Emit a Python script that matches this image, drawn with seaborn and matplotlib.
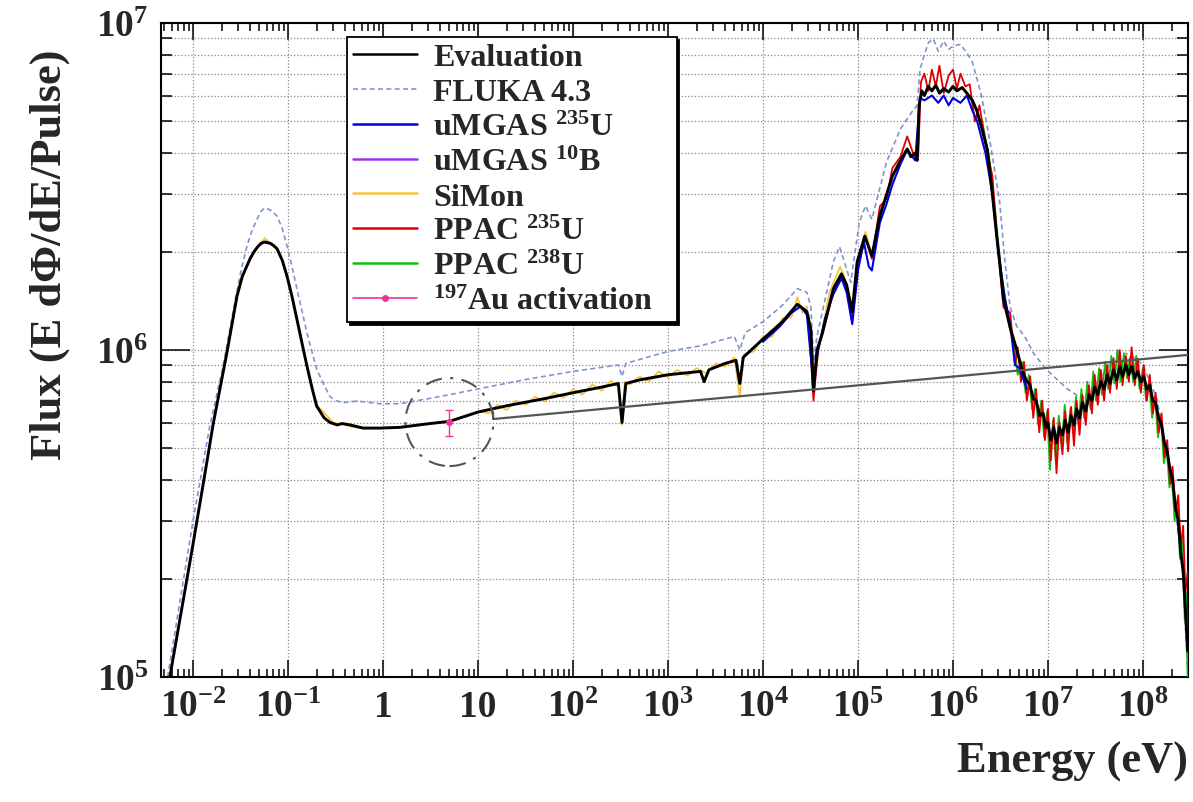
import matplotlib
matplotlib.use('Agg')
import matplotlib.pyplot as plt
from matplotlib.lines import Line2D
from matplotlib.patches import Circle
from matplotlib.transforms import ScaledTranslation
from matplotlib.ticker import LogLocator, NullFormatter, FixedLocator
import seaborn as sns

# Evaluation (black)
EVAL_E = [0.0057, 0.01, 0.013, 0.0163, 0.0195, 0.0228, 0.029, 0.033, 0.0398, 0.044,
          0.048, 0.052, 0.057, 0.065, 0.07, 0.0766, 0.087, 0.0976, 0.11, 0.124,
          0.14, 0.158, 0.18, 0.2, 0.24, 0.277, 0.33, 0.37, 0.45, 0.616,
          0.93, 1.51, 3, 5, 10, 20, 50, 112, 200, 300,
          328, 360, 500, 1000, 1500, 2200, 2400, 2700, 4000, 5200,
          5700, 6200, 1e4, 1.6e4, 2.3e4, 2.9e4, 3.2e4, 3.4e4, 3.7e4, 4.2e4,
          5.5e4, 6.7e4, 7.6e4, 8.7e4, 9.8e4, 1.18e5, 1.4e5, 1.7e5, 2.3e5, 2.8e5,
          3.3e5, 3.6e5, 4.0e5, 4.2e5, 4.4e5, 4.7e5, 5.0e5, 5.5e5, 6.0e5, 6.6e5,
          7.2e5, 8.0e5, 9.0e5, 1.0e6, 1.1e6, 1.25e6, 1.4e6, 1.6e6, 1.78e6, 2.0e6,
          2.3e6, 2.6e6, 2.9e6, 3.1e6, 3.4e6, 4.0e6, 4.7e6, 5.4e6, 6.0e6, 6.4e6,
          7.0e6, 7.5e6, 8.2e6, 8.9e6, 9.5e6, 1.0e7, 1.07e7, 1.15e7, 1.23e7, 1.32e7,
          1.42e7, 1.52e7, 1.63e7, 1.75e7, 1.88e7, 2.0e7, 2.15e7, 2.3e7, 2.5e7, 2.7e7,
          2.9e7, 3.1e7, 3.35e7, 3.6e7, 3.9e7, 4.2e7, 4.5e7, 4.9e7, 5.3e7, 5.7e7,
          6.1e7, 6.6e7, 7.1e7, 7.6e7, 8.2e7, 8.8e7, 9.5e7, 1.02e8, 1.1e8, 1.18e8,
          1.27e8, 1.36e8, 1.46e8, 1.57e8, 1.68e8, 1.8e8, 1.93e8, 2.05e8, 2.2e8, 2.35e8,
          2.5e8, 2.65e8, 2.8e8, 2.95e8]
EVAL_F = [1.0e5, 2.55e5, 4.0e5, 5.94e5, 7.8e5, 9.86e5, 1.46e6, 1.68e6, 1.9e6, 2.0e6,
          2.07e6, 2.12e6, 2.14e6, 2.12e6, 2.09e6, 2.04e6, 1.88e6, 1.68e6, 1.46e6, 1.24e6,
          1.05e6, 8.94e5, 7.6e5, 6.74e5, 6.2e5, 6.0e5, 5.9e5, 5.96e5, 5.9e5, 5.77e5,
          5.77e5, 5.8e5, 5.95e5, 6.05e5, 6.46e5, 6.75e5, 7.1e5, 7.45e5, 7.7e5, 7.9e5,
          6.0e5, 7.9e5, 8.1e5, 8.4e5, 8.5e5, 8.6e5, 8.0e5, 8.7e5, 9.1e5, 9.3e5,
          7.9e5, 9.5e5, 1.08e6, 1.22e6, 1.38e6, 1.31e6, 1.15e6, 7.5e5, 1.0e6, 1.12e6,
          1.54e6, 1.71e6, 1.58e6, 1.31e6, 1.86e6, 2.23e6, 1.94e6, 2.57e6, 3.4e6, 3.8e6,
          4.12e6, 3.9e6, 4.0e6, 3.8e6, 5.6e6, 6.2e6, 6.0e6, 6.4e6, 6.2e6, 6.45e6,
          6.1e6, 6.3e6, 6.15e6, 6.4e6, 6.2e6, 6.35e6, 6.1e6, 5.8e6, 5.4e6, 4.8e6,
          4.1e6, 3.0e6, 2.2e6, 1.86e6, 1.43e6, 1.17e6, 1.0e6, 8.6e5, 8.0e5, 7.9e5,
          7.1e5, 7.0e5, 6.3e5, 6.4e5, 5.8e5, 6.0e5, 5.3e5, 5.8e5, 5.2e5, 5.8e5,
          5.5e5, 6.1e5, 5.6e5, 6.3e5, 5.9e5, 6.6e5, 6.2e5, 6.9e5, 6.5e5, 7.3e5,
          7.0e5, 7.7e5, 7.3e5, 8.0e5, 7.6e5, 8.4e5, 7.9e5, 8.7e5, 8.1e5, 8.9e5,
          8.3e5, 9.0e5, 8.4e5, 8.9e5, 8.2e5, 8.6e5, 8.0e5, 8.3e5, 7.6e5, 7.8e5,
          7.0e5, 6.9e5, 6.2e5, 5.9e5, 5.2e5, 4.9e5, 4.3e5, 4.0e5, 3.3e5, 3.0e5,
          2.4e5, 2.1e5, 1.6e5, 1.2e5]

# FLUKA 4.3 (dashed)
FLUKA_E = [0.0054, 0.01, 0.015, 0.0207, 0.0264, 0.032, 0.037, 0.042, 0.0471, 0.052,
           0.057, 0.065, 0.0766, 0.087, 0.0976, 0.11, 0.124, 0.14, 0.158, 0.18,
           0.2, 0.24, 0.277, 0.32, 0.38, 0.53, 0.93, 1.51, 3, 5,
           10, 30, 100, 300, 328, 360, 1000, 2200, 5000, 5700,
           6500, 1e4, 1.6e4, 2.3e4, 2.9e4, 3.2e4, 3.4e4, 3.7e4, 4e4, 5.5e4,
           6.4e4, 8.4e4, 1.03e5, 1.2e5, 1.4e5, 2e5, 2.8e5, 3.7e5, 4.2e5, 4.5e5,
           5e5, 5.5e5, 6.2e5, 7e5, 8e5, 9e5, 1e6, 1.2e6, 1.4e6, 1.6e6,
           2e6, 2.5e6, 3.1e6, 3.5e6, 4e6, 4.7e6, 5.7e6, 7e6, 9.5e6, 1.6e7,
           2.3e7, 3.5e7, 5.4e7, 7.3e7, 1e8, 1.4e8, 1.9e8, 2.6e8, 2.98e8]
FLUKA_F = [1.0e5, 3.0e5, 5.86e5, 8.9e5, 1.31e6, 1.75e6, 2.08e6, 2.33e6, 2.51e6, 2.66e6,
           2.72e6, 2.68e6, 2.57e6, 2.35e6, 2.08e6, 1.8e6, 1.54e6, 1.32e6, 1.13e6, 9.8e5,
           8.75e5, 7.8e5, 7.2e5, 7.0e5, 6.9e5, 6.98e5, 6.85e5, 6.85e5, 7.1e5, 7.3e5,
           7.6e5, 8.1e5, 8.6e5, 9.0e5, 8.3e5, 9.1e5, 9.9e5, 1.03e6, 1.1e6, 1.0e6,
           1.13e6, 1.22e6, 1.37e6, 1.54e6, 1.5e6, 1.35e6, 9.2e5, 1.1e6, 1.22e6, 1.86e6,
           2.07e6, 1.61e6, 2.45e6, 2.76e6, 2.51e6, 3.76e6, 4.74e6, 5.35e6, 5.6e6, 7.23e6,
           8.0e6, 8.7e6, 8.94e6, 8.2e6, 8.8e6, 8.3e6, 8.5e6, 8.6e6, 8.1e6, 7.6e6,
           5.98e6, 4.2e6, 2.84e6, 1.9e6, 1.35e6, 1.18e6, 1.1e6, 9.8e5, 8.75e5, 7.6e5,
           7.1e5, 8.1e5, 9.86e5, 9.7e5, 9.0e5, 7.1e5, 4.4e5, 2.2e5, 1.0e5]

# uMGAS 235U
UMG235_E = [1e4, 1.5e4, 2e4, 2.5e4, 2.9e4, 3.4e4, 3.8e4, 4.5e4, 5.5e4, 6.7e4,
            7.6e4, 8.7e4, 1e5, 1.15e5, 1.3e5, 1.4e5, 1.7e5, 2e5, 2.3e5, 2.8e5,
            3.3e5, 4e5, 4.5e5, 5e5, 6e5, 7e5, 8e5, 9e5, 1e6, 1.2e6,
            1.4e6, 1.6e6, 1.8e6, 2.2e6, 2.6e6, 3e6, 3.5e6, 4e6, 4.5e6, 5e6, 6e6]
UMG235_F = [1.06e6, 1.18e6, 1.3e6, 1.36e6, 1.28e6, 7.8e5, 1.0e6, 1.25e6, 1.48e6, 1.66e6,
            1.5e6, 1.2e6, 1.75e6, 2.15e6, 1.8e6, 1.75e6, 2.45e6, 2.8e6, 3.2e6, 3.7e6,
            4.1e6, 3.8e6, 5.9e6, 5.8e6, 6.0e6, 5.7e6, 6.0e6, 5.6e6, 5.9e6, 5.7e6,
            6.0e6, 5.4e6, 5.0e6, 4.0e6, 3.0e6, 2.0e6, 1.45e6, 1.2e6, 9.0e5, 8.8e5, 7.6e5]

# uMGAS 10B (thermal part, hidden under the evaluation)
UMG10B_E = [0.0228, 0.029, 0.033, 0.0398, 0.044, 0.048, 0.052, 0.057, 0.065, 0.07,
            0.0766, 0.087, 0.0976]
UMG10B_F = [9.8e5, 1.45e6, 1.67e6, 1.89e6, 1.99e6, 2.06e6, 2.11e6, 2.13e6, 2.11e6, 2.08e6,
            2.03e6, 1.87e6, 1.67e6]

# SiMon
SIMON_E = [0.02, 0.03, 0.04, 0.057, 0.08, 0.1, 0.15, 0.2, 0.3, 0.5,
           1, 2, 5, 8, 10, 13, 16, 20, 25, 32,
           40, 50, 63, 80, 100, 125, 160, 200, 250, 300,
           328, 350, 400, 500, 630, 800, 1000, 1250, 1600, 2000,
           2500, 3200, 4000, 5000, 5700, 6300, 8000, 1e4, 1.25e4, 1.6e4,
           2e4, 2.3e4, 2.6e4, 2.9e4, 3.4e4, 4e4, 5e4, 6.5e4, 7.6e4, 8.7e4,
           1e5, 1.2e5, 1.4e5]
SIMON_F = [8.1e5, 1.52e6, 1.93e6, 2.2e6, 2.0e6, 1.66e6, 9.6e5, 6.8e5, 6.0e5, 5.8e5,
           5.78e5, 5.85e5, 6.05e5, 6.3e5, 6.5e5, 6.4e5, 6.8e5, 6.55e5, 7.0e5, 6.8e5,
           7.2e5, 6.95e5, 7.4e5, 7.15e5, 7.6e5, 7.3e5, 7.85e5, 7.5e5, 8.05e5, 7.7e5,
           5.9e5, 8.0e5, 7.85e5, 8.3e5, 8.0e5, 8.6e5, 8.25e5, 8.7e5, 8.35e5, 8.8e5,
           8.5e5, 9.1e5, 8.9e5, 9.5e5, 7.2e5, 9.7e5, 9.9e5, 1.1e6, 1.1e6, 1.25e6,
           1.26e6, 1.45e6, 1.30e6, 1.36e6, 7.6e5, 1.06e6, 1.5e6, 1.8e6, 1.6e6, 1.28e6,
           1.9e6, 2.3e6, 1.95e6]

# PPAC 235U
PPAC235_E = [3.0e4, 3.4e4, 3.8e4, 4.5e4, 5.5e4, 6.7e4, 7.6e4, 8.7e4, 1e5, 1.2e5,
             1.4e5, 1.7e5, 2e5, 2.3e5, 2.8e5, 3.3e5, 3.8e5, 4.3e5, 4.6e5, 5e5,
             5.5e5, 6e5, 6.6e5, 7.2e5, 8e5, 9e5, 1e6, 1.1e6, 1.2e6, 1.35e6,
             1.5e6, 1.7e6, 1.9e6, 2.2e6, 2.6e6, 3.0e6, 3.4e6, 4e6, 4.5e6, 4.8e6,
             5.2e6, 5.6e6, 6.0e6, 6.5e6, 7.0e6, 7.5e6, 8.1e6, 8.7e6, 9.3e6, 1.0e7,
             1.07e7, 1.15e7, 1.23e7, 1.32e7, 1.42e7, 1.52e7, 1.63e7, 1.75e7, 1.88e7, 2.0e7,
             2.15e7, 2.3e7, 2.5e7, 2.7e7, 2.9e7, 3.1e7, 3.35e7, 3.6e7, 3.9e7, 4.2e7,
             4.5e7, 4.9e7, 5.3e7, 5.7e7, 6.1e7, 6.6e7, 7.1e7, 7.6e7, 8.2e7, 8.8e7,
             9.5e7, 1.02e8, 1.1e8, 1.18e8, 1.27e8, 1.36e8, 1.46e8, 1.57e8, 1.68e8, 1.8e8,
             1.93e8, 2.05e8, 2.2e8, 2.35e8, 2.5e8, 2.65e8, 2.8e8, 2.95e8]
PPAC235_F = [1.28e6, 7.0e5, 1.0e6, 1.2e6, 1.5e6, 1.65e6, 1.55e6, 1.22e6, 1.8e6, 2.2e6,
             1.9e6, 2.75e6, 2.9e6, 3.6e6, 3.9e6, 4.5e6, 4.0e6, 3.9e6, 6.6e6, 7.0e6,
             6.2e6, 7.2e6, 6.4e6, 7.4e6, 6.1e6, 6.9e6, 7.2e6, 6.3e6, 7.0e6, 6.4e6,
             6.5e6, 5.0e6, 5.6e6, 4.3e6, 3.4e6, 2.0e6, 1.35e6, 1.3e6, 9.0e5, 1.02e6,
             8.0e5, 9.2e5, 7.0e5, 8.3e5, 6.2e5, 7.6e5, 5.6e5, 7.0e5, 5.3e5, 6.6e5,
             4.6e5, 6.2e5, 4.2e5, 6.0e5, 4.8e5, 6.5e5, 4.9e5, 6.7e5, 5.1e5, 7.0e5,
             5.5e5, 7.3e5, 5.9e5, 7.8e5, 6.4e5, 8.4e5, 6.8e5, 8.7e5, 7.0e5, 9.0e5,
             7.4e5, 9.4e5, 7.6e5, 1.0e6, 7.8e5, 9.6e5, 8.0e5, 1.02e6, 7.8e5, 9.4e5,
             7.4e5, 9.0e5, 7.0e5, 8.4e5, 6.4e5, 7.4e5, 5.6e5, 6.4e5, 4.7e5, 5.3e5,
             3.9e5, 4.4e5, 3.2e5, 3.6e5, 2.5e5, 2.9e5, 1.8e5, 2.1e5]

# PPAC 238U
PPAC238_E = [2e6, 2.4e6, 2.8e6, 3.2e6, 3.6e6, 4e6, 4.4e6, 4.8e6, 5.3e6, 5.8e6,
             6.3e6, 6.8e6, 7.3e6, 7.9e6, 8.5e6, 9.1e6, 9.8e6, 1.05e7, 1.13e7, 1.21e7,
             1.3e7, 1.4e7, 1.5e7, 1.6e7, 1.72e7, 1.85e7, 1.97e7, 2.1e7, 2.25e7, 2.4e7,
             2.6e7, 2.8e7, 3.0e7, 3.2e7, 3.45e7, 3.7e7, 4.0e7, 4.3e7, 4.65e7, 5.0e7,
             5.4e7, 5.8e7, 6.3e7, 6.8e7, 7.3e7, 7.9e7, 8.5e7, 9.2e7, 1.0e8, 1.08e8,
             1.16e8, 1.25e8, 1.34e8, 1.44e8, 1.55e8, 1.66e8, 1.78e8, 1.9e8, 2.02e8, 2.15e8,
             2.3e8, 2.45e8, 2.6e8, 2.75e8, 2.85e8, 2.95e8]
PPAC238_F = [5.1e6, 3.9e6, 2.6e6, 1.75e6, 1.4e6, 1.15e6, 1.05e6, 8.4e5, 9.2e5, 7.4e5,
             8.4e5, 6.6e5, 7.6e5, 5.9e5, 7.0e5, 5.4e5, 6.5e5, 4.3e5, 6.1e5, 4.6e5,
             6.3e5, 5.0e5, 6.8e5, 5.2e5, 6.6e5, 5.6e5, 7.2e5, 5.9e5, 7.6e5, 6.2e5,
             8.0e5, 6.6e5, 8.6e5, 7.0e5, 8.8e5, 7.3e5, 9.2e5, 7.6e5, 9.6e5, 7.9e5,
             1.0e6, 8.0e5, 9.7e5, 8.2e5, 9.5e5, 8.0e5, 9.6e5, 7.6e5, 8.8e5, 7.0e5,
             8.0e5, 6.2e5, 7.2e5, 5.4e5, 6.2e5, 4.5e5, 5.0e5, 3.8e5, 4.2e5, 3.0e5,
             3.4e5, 2.3e5, 2.6e5, 1.5e5, 1.8e5, 1.0e5]

# 197Au activation point and its error bar
AU_E = [5.0]
AU_F = [6.02e5]
AU_ERR = [5.5e4]

# grey reference line starting from the circled point
REF_E = [14.4, 14.4, 2.98e8]
REF_F = [6.46e5, 6.15e5, 9.66e5]

X_TICKS = [1e-2, 1e-1, 1, 10, 1e2, 1e3, 1e4, 1e5, 1e6, 1e7, 1e8]
X_LABELS = ['$10^{-2}$', '$10^{-1}$', '1', '10', '$10^{2}$', '$10^{3}$', '$10^{4}$',
            '$10^{5}$', '$10^{6}$', '$10^{7}$', '$10^{8}$']
Y_TICKS = [1e5, 1e6, 1e7]
Y_LABELS = ['$10^{5}$', '$10^{6}$', '$10^{7}$']

COR_EVAL = 'black'
COR_FLUKA = '#7f95c9'
COR_UMG235 = '#0000e0'
COR_UMG10B = '#9933ee'
COR_SIMON = '#f7c23a'
COR_PPAC235 = '#e00000'
COR_PPAC238 = '#10c010'
COR_AU = '#ee3399'

sns.set_theme(style='ticks')
plt.rcParams['font.family'] = ['Liberation Serif', 'DejaVu Serif']
plt.rcParams['font.weight'] = 'bold'
plt.rcParams['mathtext.fontset'] = 'custom'
plt.rcParams['mathtext.rm'] = 'Liberation Serif:bold'
plt.rcParams['mathtext.it'] = 'Liberation Serif:bold'
plt.rcParams['mathtext.bf'] = 'Liberation Serif:bold'
plt.rcParams['mathtext.default'] = 'rm'

fig = plt.figure(figsize=(11.93, 8.03), dpi=100)
ax = fig.add_axes([161 / 1193, 125 / 803, 1027 / 1193, 654 / 803])


def curva(E, F, cor, lw, **kw):
    sns.lineplot(x=E, y=F, ax=ax, color=cor, lw=lw, estimator=None, sort=False,
                 legend=False, **kw)


curva(FLUKA_E, FLUKA_F, COR_FLUKA, 1.2, linestyle=(0, (3, 2)), zorder=2)
curva(UMG10B_E, UMG10B_F, COR_UMG10B, 1.0, zorder=3)
curva(SIMON_E, SIMON_F, COR_SIMON, 1.2, zorder=3)
curva(PPAC238_E, PPAC238_F, COR_PPAC238, 1.3, zorder=3)
curva(PPAC235_E, PPAC235_F, COR_PPAC235, 1.3, zorder=3.1)
curva(UMG235_E, UMG235_F, COR_UMG235, 1.5, zorder=3.2)
curva(EVAL_E, EVAL_F, COR_EVAL, 2.1, zorder=4)
curva(REF_E, REF_F, '#555555', 1.6, zorder=4)

ax.errorbar(AU_E, AU_F, yerr=AU_ERR, fmt='o', ms=4, color=COR_AU, ecolor=COR_AU,
            elinewidth=1, capsize=3, zorder=5)

ax.set_xscale('log')
ax.set_yscale('log')
ax.set_xlim(4.6e-3, 2.98e8)
ax.set_ylim(1e5, 1e7)

# dashed circle round the activation point
circulo = Circle((0, 0), 0.44, fill=False, edgecolor='#555555', lw=1.5,
                 linestyle=(0, (8, 4, 1.5, 4)),
                 transform=fig.dpi_scale_trans + ScaledTranslation(AU_E[0], AU_F[0], ax.transData),
                 zorder=5)
ax.add_patch(circulo)

ax.xaxis.set_major_locator(FixedLocator(X_TICKS))
ax.set_xticklabels(X_LABELS)
ax.xaxis.set_minor_locator(LogLocator(base=10, subs=range(2, 10), numticks=50))
ax.xaxis.set_minor_formatter(NullFormatter())
ax.yaxis.set_major_locator(FixedLocator(Y_TICKS))
ax.set_yticklabels(Y_LABELS)
ax.yaxis.set_minor_locator(LogLocator(base=10, subs=range(2, 10), numticks=50))
ax.yaxis.set_minor_formatter(NullFormatter())

ax.grid(True, which='major', axis='x', ls=':', color='#888888', lw=0.9)
ax.grid(True, which='both', axis='y', ls=':', color='#888888', lw=0.9)

ax.tick_params(which='both', direction='in', top=True, right=True, color='black',
               width=1.1, labelsize=27, pad=9)
ax.tick_params(axis='x', which='major', length=12)
ax.tick_params(axis='x', which='minor', length=6)
ax.tick_params(axis='y', which='major', length=21)
ax.tick_params(axis='y', which='minor', length=8)
for s in ax.spines.values():
    s.set_linewidth(1.5)
    s.set_color('black')

ax.set_ylabel('Flux (E dΦ/dE/Pulse)', fontsize=32, fontweight='bold')
ax.yaxis.set_label_coords(-0.089, 0.647)
ax.set_xlabel('Energy (eV)', fontsize=32, fontweight='bold', loc='right')
ax.xaxis.set_label_coords(1.0, -0.098)

# legenda
handles = [
    Line2D([], [], color=COR_EVAL, lw=1.8),
    Line2D([], [], color=COR_FLUKA, lw=1.2, linestyle=(0, (3, 2))),
    Line2D([], [], color=COR_UMG235, lw=1.8),
    Line2D([], [], color=COR_UMG10B, lw=1.8),
    Line2D([], [], color=COR_SIMON, lw=1.8),
    Line2D([], [], color=COR_PPAC235, lw=1.8),
    Line2D([], [], color=COR_PPAC238, lw=1.8),
    Line2D([], [], color=COR_AU, lw=1.2, marker='o', ms=4),
]
labels = ['Evaluation', 'FLUKA 4.3', 'uMGAS $^{235}$U', 'uMGAS $^{10}$B', 'SiMon',
          'PPAC $^{235}$U', 'PPAC $^{238}$U', '$^{197}$Au activation']
leg = ax.legend(handles, labels, loc='upper left', bbox_to_anchor=(0.181, 0.535, 0.321, 0.444),
                mode='expand', fontsize=23, frameon=True, fancybox=False, edgecolor='black',
                framealpha=1, borderpad=0.2, labelspacing=0.17, handlelength=2.0,
                handletextpad=0.5, borderaxespad=0, shadow={'color': 'black', 'alpha': 1})
leg.get_frame().set_linewidth(1.3)
leg.set_zorder(10)

fig.savefig('out.png', dpi=100)
